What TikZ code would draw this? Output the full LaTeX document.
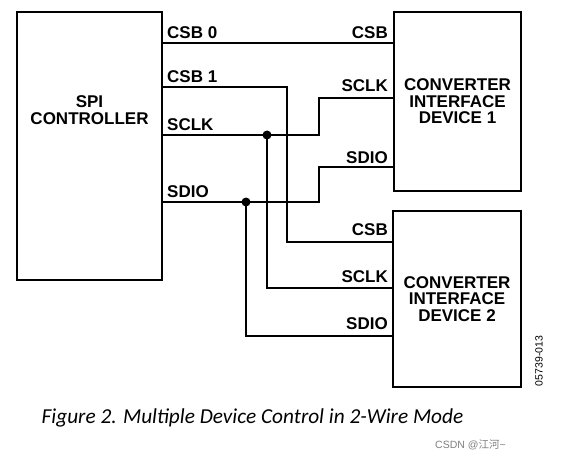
\documentclass[tikz,border=0pt]{standalone}
\usepackage{fontspec}
\setmainfont{Liberation Sans}
\newfontfamily\capfont{Carlito}
\newfontfamily\cjk{Noto Sans CJK SC}
\begin{document}
\begin{tikzpicture}[x=1pt,y=-1pt,
    box/.style={draw, line width=1.6pt, inner sep=0pt},
    pin/.style={font=\bfseries\fontsize{17}{16.5}\selectfont, inner sep=0pt},
    wire/.style={line width=1.6pt},
    dot/.style={circle, fill, inner sep=0pt, minimum size=9pt}]
    \useasboundingbox (0,0) rectangle (570,460);

    % boxes
    \node[box, minimum width=145pt, minimum height=268pt] (ctrl) at (89.5,146) {};
    \node[pin, align=center] (ctrltxt) at (89.5,110) {SPI\\CONTROLLER};
    \node[box, pin, align=center, minimum width=127pt, minimum height=179pt] (dev1) at (457.5,101.5) {CONVERTER\\INTERFACE\\DEVICE 1};
    \node[box, pin, align=center, minimum width=128pt, minimum height=176pt] (dev2) at (457,299) {CONVERTER\\INTERFACE\\DEVICE 2};

    % pins
    \coordinate (c-csb0) at (162,43);
    \coordinate (c-csb1) at (162,87);
    \coordinate (c-sclk) at (162,135);
    \coordinate (c-sdio) at (162,202);
    \coordinate (d1-csb) at (394,43);
    \coordinate (d1-sclk) at (394,98);
    \coordinate (d1-sdio) at (394,167);
    \coordinate (d2-csb) at (393,242);
    \coordinate (d2-sclk) at (393,288);
    \coordinate (d2-sdio) at (393,336);
    \coordinate (k1) at (319,135);
    \coordinate (k2) at (319,202);

    \node[dot] (jsclk) at (267,135) {};
    \node[dot] (jsdio) at (246,202) {};

    % wires
    \draw[wire] (c-csb0) -- (d1-csb);
    \draw[wire] (c-csb1) -| (287,242) -- (d2-csb);
    \draw[wire] (c-sclk) -- (k1) |- (d1-sclk);
    \draw[wire] (jsclk.center) |- (d2-sclk);
    \draw[wire] (c-sdio) -- (k2) |- (d1-sdio);
    \draw[wire] (jsdio.center) |- (d2-sdio);

    % labels
    \node[pin, anchor=base west] (l-csb0) at (167,39) {CSB 0};
    \node[pin, anchor=base west] (l-csb1) at (167,82) {CSB 1};
    \node[pin, anchor=base west] (l-sclk) at (167,130) {SCLK};
    \node[pin, anchor=base west] (l-sdio) at (167,197) {SDIO};
    \node[pin, anchor=base east] (r1-csb) at (388,39) {CSB};
    \node[pin, anchor=base east] (r1-sclk) at (388,92) {SCLK};
    \node[pin, anchor=base east] (r1-sdio) at (388,163) {SDIO};
    \node[pin, anchor=base east] (r2-csb) at (388,235) {CSB};
    \node[pin, anchor=base east] (r2-sclk) at (388,282) {SCLK};
    \node[pin, anchor=base east] (r2-sdio) at (388,329) {SDIO};

    \node[rotate=90, font=\fontsize{10.5}{12}\selectfont, inner sep=0pt] (fig) at (539,361) {05739-013};
    \node[font=\capfont\itshape\fontsize{21.3}{23}\selectfont, inner sep=0pt] (cap) at (252.5,418) {Figure 2. Multiple Device Control in 2-Wire Mode};
    \node[font=\fontsize{10.5}{12}\selectfont, text=gray, inner sep=0pt, anchor=west] (wm) at (435,445) {CSDN @{\cjk 江河}\textasciitilde};
\end{tikzpicture}
\end{document}
